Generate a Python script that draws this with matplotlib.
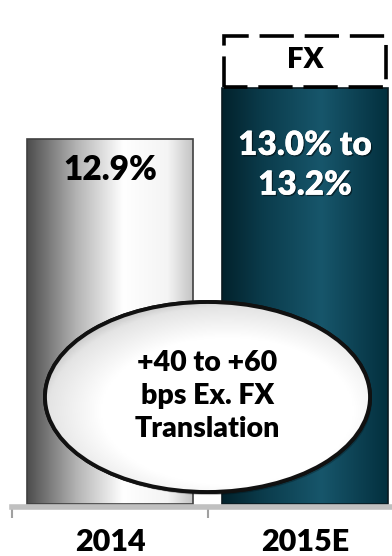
import numpy as np
import matplotlib
matplotlib.use("Agg")
import matplotlib.pyplot as plt
from matplotlib.patches import Ellipse
from matplotlib.colors import LinearSegmentedColormap
import matplotlib.patheffects as pe

plt.rcParams['font.family'] = ['Lato', 'DejaVu Sans']
W = 800

# data
categories = ["2014", "2015E"]
bar_values = [12.9, 13.1]
fx_value = 0.2
value_labels = ["12.9%", "13.0% to\n13.2%"]
base_value = 11.47
callout_text = "+40 to +60\nbps Ex. FX\nTranslation"

fig = plt.figure(figsize=(3.92, 5.56), dpi=100)
ax = fig.add_axes([0, 0, 1, 1])
ymin = base_value - 52 / 255
ax.set_xlim(-0.564, 1.446)
ax.set_ylim(ymin, ymin + 556 / 255)

x = np.arange(len(categories))
width = 0.85
heights = [v - base_value for v in bar_values]
bars = ax.bar(x, heights, width=width, bottom=base_value, zorder=2)

cmap1 = LinearSegmentedColormap.from_list("g", [(0, "#4d4d4d"), (0.3, "#b4b4b4"), (0.58, "#ffffff"), (0.85, "#f4f4f4"), (1, "#c4c4c4")])
cmap2 = LinearSegmentedColormap.from_list("t", [(0, "#02222c"), (0.25, "#0b3c4c"), (0.6, "#17566b"), (0.85, "#0b3e4f"), (1, "#03303e")])
grad = np.linspace(0, 1, 256).reshape(1, -1)
edges = ["#404040", "#0a1a20"]
for b, cm, ec in zip(bars, [cmap1, cmap2], edges):
    b.set_facecolor("none")
    b.set_edgecolor(ec)
    b.set_linewidth(1.2)
    x0, y0 = b.get_x(), b.get_y()
    im = ax.imshow(grad, cmap=cm, aspect="auto", extent=[x0, x0 + b.get_width(), y0, y0 + b.get_height()], zorder=1)
    im.set_clip_path(b)

# FX dashed box on top of 2015E
fx = ax.bar([x[1]], [fx_value], width=width * 0.98, bottom=bar_values[1] + 0.006,
            facecolor="white", edgecolor="black", linewidth=2.6, linestyle=(3, (9.5, 3)), zorder=3)
ax.text(x[1], bar_values[1] + fx_value / 2 + 0.012, "FX", ha="center", va="center",
        fontsize=21, fontweight=W, color="black", zorder=4)

# value labels
ax.text(x[0], 12.78, value_labels[0], ha="center", va="center", fontsize=24,
        fontweight=W, color="black", zorder=4, linespacing=1.3)
ax.text(x[1], 12.80, value_labels[1], ha="center", va="center", fontsize=24,
        fontweight=W, color="white", zorder=4, linespacing=1.3,
        path_effects=[pe.withSimplePatchShadow(offset=(1, -1), shadow_rgbFace="black", alpha=0.5), pe.Normal()])

# callout ellipse
ell_c = (0.5, ymin + 159 / 255)
ell_w, ell_h = 325 / 195, 190 / 255
shadow = Ellipse((ell_c[0] + 0.01, ell_c[1] - 0.012), ell_w, ell_h, facecolor="#00000040", edgecolor="none", zorder=4)
ax.add_patch(shadow)
ell = Ellipse(ell_c, ell_w, ell_h, facecolor="white", edgecolor="#111111", linewidth=2.8, zorder=5)
ax.add_patch(ell)
ecm = LinearSegmentedColormap.from_list("e", [(0, "#ffffff"), (0.6, "#ffffff"), (0.85, "#e4e4e4"), (1, "#a8a8a8")])
u = np.linspace(-1, 1, 200)
U, V = np.meshgrid(u, u)
r = np.sqrt((U - 0.12) ** 2 + (V - 0.15) ** 2) / 1.3
eim = ax.imshow(np.clip(r, 0, 1), cmap=ecm, vmin=0, vmax=1, aspect="auto", origin="upper",
                extent=[ell_c[0] - ell_w / 2, ell_c[0] + ell_w / 2, ell_c[1] - ell_h / 2, ell_c[1] + ell_h / 2],
                zorder=5, interpolation="bilinear")
eim.set_clip_path(ell)
ell2 = Ellipse(ell_c, ell_w, ell_h, facecolor="none", edgecolor="#111111", linewidth=2.8, zorder=6)
ax.add_patch(ell2)
ax.text(ell_c[0], ell_c[1] + 0.003, callout_text, ha="center", va="center", fontsize=20.5,
        fontweight=W, color="black", zorder=7, linespacing=1.34)

# axes styling
for s in ["top", "left", "right"]:
    ax.spines[s].set_visible(False)
ax.spines["bottom"].set_position(("data", base_value - 0.012))
ax.spines["bottom"].set_color("#c0c0c0")
ax.spines["bottom"].set_linewidth(4)
ax.spines["bottom"].set_bounds(-0.5, 1.446)
ax.spines["bottom"].set_zorder(3)
ax.set_yticks([])
ax.set_xticks(x)
ax.set_xticklabels(categories, fontsize=22, fontweight=W)
ax.tick_params(axis="x", which="major", length=0, pad=15)
ax.set_xticks([-0.5, 0.5], minor=True)
ax.tick_params(axis="x", which="minor", length=8, width=1.5, color="#a0a0a0", direction="out")
ax.set_facecolor("white")

fig.savefig("out.png", dpi=100, facecolor="white")
